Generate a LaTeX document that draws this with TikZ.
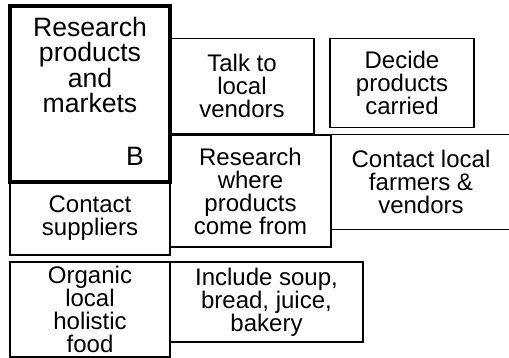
\documentclass[tikz,border=0pt]{standalone}
\usepackage{fontspec}
\setmainfont{Liberation Sans}
\begin{document}
\begin{tikzpicture}[x=1pt,y=-1pt,
    task/.style={draw,line width=1.3pt,inner sep=0pt,align=center,
      font=\fontsize{24}{23}\selectfont},
    mainbox/.style={draw,line width=3.6pt,inner sep=0pt},
    maintext/.style={inner sep=0pt,align=center,
      font=\fontsize{26.6}{25.5}\selectfont}]
  \useasboundingbox (0,0) rectangle (509,358);
  \clip (0,0) rectangle (509,358);

  % left column
  \node[task,minimum width=160,minimum height=73] (suppliers) at (90,218.5)
    {Contact\\suppliers};
  \node[task,minimum width=160,minimum height=95] (organic) at (90,309.5)
    {Organic\\local\\holistic\\food};

  % middle and right
  \node[task,minimum width=144,minimum height=95] (talk) at (242,86)
    {Talk to\\local\\vendors};
  \node[task,minimum width=144,minimum height=89] (decide) at (402,83)
    {Decide\\products\\carried};
  \node[task,minimum width=161,minimum height=112] (where) at (250.5,191)
    {Research\\where\\products\\come from};
  \node[task,minimum width=180,minimum height=95.5] (farmers) at (421,182)
    {Contact local\\farmers \&\\vendors};
  \node[task,minimum width=193,minimum height=80] (include) at (266.5,302)
    {Include soup,\\bread, juice,\\bakery};

  % main task on top
  \node[mainbox,minimum width=160,minimum height=176] (research) at (90,94) {};
  \node[maintext] (researchtext) at (90,65) {Research\\products\\and\\markets};
  \node[maintext] (researchmark) at (135,156) {B};
\end{tikzpicture}
\end{document}
